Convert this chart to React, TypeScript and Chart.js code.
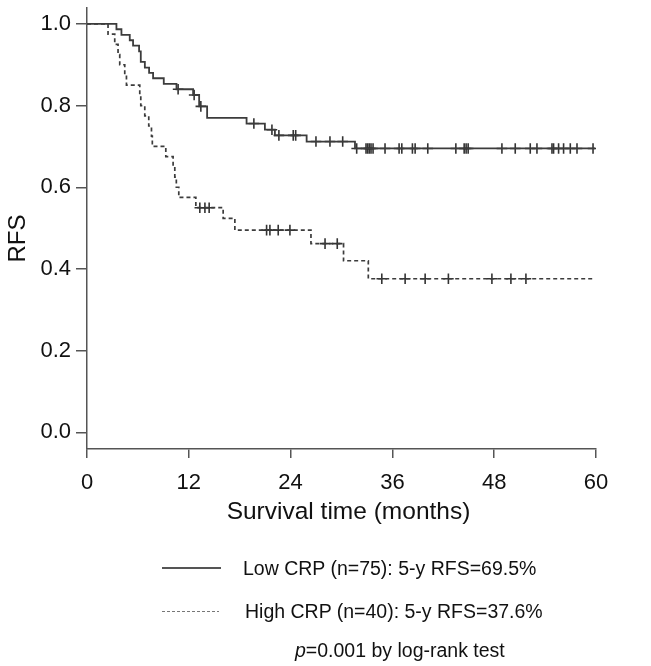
import { useEffect, useRef } from "react";
import Chart, { ChartConfiguration } from "chart.js/auto";

// Kaplan-Meier curves (time in months, RFS)
const lowTimes = [0, 3.47, 4.06, 5.04, 5.43, 6.14, 6.34, 6.82, 7.32, 7.79, 9.05, 10.55, 12.51, 13.22, 14.16, 18.81, 20.97, 22.15, 25.89, 31.59, 59.9];
const lowSurv = [1.0, 0.987, 0.973, 0.96, 0.947, 0.933, 0.907, 0.893, 0.88, 0.867, 0.853, 0.84, 0.826, 0.798, 0.77, 0.756, 0.741, 0.727, 0.712, 0.695, 0.695];
const lowCensored = [10.74, 12.63, 13.42, 19.67, 21.8, 22.62, 24.31, 24.6, 26.99, 28.64, 30.14, 31.79, 32.89, 33.09, 33.28, 33.48, 33.72, 35.13, 36.79, 37.11, 38.36, 38.68, 40.17, 43.48, 44.46, 44.69, 44.93, 48.91, 50.48, 52.25, 53.04, 54.81, 55.0, 55.59, 56.18, 56.97, 57.76, 59.65];

const highTimes = [0, 2.48, 3.27, 3.66, 3.86, 4.45, 4.65, 6.22, 6.34, 6.81, 7.28, 7.6, 7.7, 9.29, 10.15, 10.35, 10.53, 10.82, 12.83, 16.05, 17.43, 26.4, 30.24, 33.16, 59.9];
const highSurv = [1.0, 0.975, 0.95, 0.925, 0.9, 0.875, 0.85, 0.825, 0.8, 0.775, 0.75, 0.725, 0.7, 0.675, 0.65, 0.625, 0.6, 0.575, 0.55, 0.524, 0.495, 0.462, 0.42, 0.376, 0.376];
const highCensored = [13.3, 13.9, 14.4, 21.17, 21.56, 22.54, 23.92, 28.06, 29.5, 34.75, 37.5, 39.86, 42.6, 47.73, 49.97, 51.74];

const xTicks = [0, 12, 24, 36, 48, 60];
const yTicks = [0, 0.2, 0.4, 0.6, 0.8, 1.0];

const xTitle = "Survival time (months)";
const yTitle = "RFS";
const lowLabel = "Low CRP (n=75): 5-y RFS=69.5%";
const highLabel = "High CRP (n=40): 5-y RFS=37.6%";

const FONT = '"Liberation Sans", Arial, sans-serif';
const INK = "#111";
const AXIS = "#555";
const CURVE = "#3c3c3c";

// level of a step curve at time t
const levelAt = (times: number[], surv: number[], t: number) => {
  let s = surv[0];
  for (let i = 0; i < times.length; i++) {
    if (times[i] <= t) s = surv[i];
  }
  return s;
};

const toPoints = (times: number[], surv: number[]) =>
  times.map((t, i) => ({ x: t, y: surv[i] }));

const toCensorPoints = (censored: number[], times: number[], surv: number[]) =>
  censored.map((t) => ({ x: t, y: levelAt(times, surv, t) }));

const App = () => {
  const chartRef = useRef<HTMLCanvasElement | null>(null);

  useEffect(() => {
    let myChart: Chart | null = null;

    if (chartRef.current) {
      const config: ChartConfiguration = {
        type: "line",
        data: {
          datasets: [
            {
              label: lowLabel,
              data: toPoints(lowTimes, lowSurv),
              stepped: "before",
              borderColor: CURVE,
              borderWidth: 1.8,
              pointRadius: 0,
              fill: false,
            },
            {
              label: highLabel,
              data: toPoints(highTimes, highSurv),
              stepped: "before",
              borderColor: CURVE,
              borderWidth: 1.7,
              borderDash: [4, 3],
              pointRadius: 0,
              fill: false,
            },
            {
              label: "low censored",
              data: toCensorPoints(lowCensored, lowTimes, lowSurv),
              showLine: false,
              pointStyle: "cross",
              pointRadius: 5.3,
              pointBorderWidth: 1.6,
              pointBorderColor: "#333",
            },
            {
              label: "high censored",
              data: toCensorPoints(highCensored, highTimes, highSurv),
              showLine: false,
              pointStyle: "cross",
              pointRadius: 5.3,
              pointBorderWidth: 1.6,
              pointBorderColor: "#333",
            },
          ],
        },
        options: {
          responsive: false,
          animation: false,
          events: [],
          layout: { padding: { left: 0, top: 8, right: 55, bottom: 0 } },
          plugins: {
            legend: { display: false },
            tooltip: { enabled: false },
          },
          scales: {
            x: {
              type: "linear",
              min: 0,
              max: 60,
              afterBuildTicks: (scale) => {
                scale.ticks = xTicks.map((v) => ({ value: v }));
              },
              afterFit: (scale) => {
                scale.height = 217;
                scale.paddingLeft = 0;
                scale.paddingRight = 0;
              },
              border: { color: AXIS, width: 1.5 },
              grid: {
                drawOnChartArea: false,
                drawTicks: true,
                tickLength: 9,
                color: AXIS,
                lineWidth: 1.5,
              },
              ticks: {
                color: INK,
                padding: 12,
                font: { family: FONT, size: 22 },
                callback: (v) => String(v),
              },
            },
            y: {
              type: "linear",
              min: -0.041,
              max: 1.039,
              afterBuildTicks: (scale) => {
                scale.ticks = yTicks.map((v) => ({ value: v }));
              },
              afterFit: (scale) => {
                scale.width = 87;
                scale.paddingTop = 0;
                scale.paddingBottom = 0;
              },
              border: { color: AXIS, width: 1.5 },
              grid: {
                drawOnChartArea: false,
                drawTicks: true,
                tickLength: 11,
                color: AXIS,
                lineWidth: 1.5,
              },
              ticks: {
                color: INK,
                padding: 5,
                font: { family: FONT, size: 22 },
                callback: (v) => Number(v).toFixed(1),
              },
            },
          },
        },
        plugins: [
          {
            id: "axis_titles",
            afterDraw: (chart) => {
              const { ctx, chartArea } = chart;
              ctx.save();
              ctx.fillStyle = INK;
              ctx.font = `24.5px ${FONT}`;
              ctx.textAlign = "center";
              ctx.textBaseline = "alphabetic";
              ctx.fillText(xTitle, (chartArea.left + chartArea.right) / 2 + 7, chartArea.bottom + 70);
              ctx.font = `24px ${FONT}`;
              ctx.translate(25, (chartArea.top + chartArea.bottom) / 2 + 10);
              ctx.rotate(-Math.PI / 2);
              ctx.fillText(yTitle, 0, 0);
              ctx.restore();
            },
          },
        ],
      };
      myChart = new Chart(chartRef.current, config);
    }
    return () => {
      if (myChart) {
        myChart.destroy();
      }
    };
  }, []);

  const textStyle = {
    position: "absolute" as const,
    fontFamily: FONT,
    fontSize: 19.5,
    lineHeight: "22px",
    color: INK,
    whiteSpace: "nowrap" as const,
  };

  return (
    <div style={{ position: "fixed", left: 0, top: 0, width: 651, height: 666, background: "#fff" }}>
      <canvas ref={chartRef} width={651} height={666} style={{ position: "absolute", left: 0, top: 0, width: 651, height: 666 }} />
      <div style={{ position: "absolute", left: 162, top: 567, width: 59, height: 1.5, background: AXIS }} />
      <div style={{ ...textStyle, left: 243, top: 557 }}>{lowLabel}</div>
      <div
        style={{
          position: "absolute",
          left: 162,
          top: 611,
          width: 57,
          height: 1.3,
          background: `repeating-linear-gradient(to right, #777 0 3px, transparent 3px 5px)`,
        }}
      />
      <div style={{ ...textStyle, left: 245, top: 600 }}>{highLabel}</div>
      <div style={{ ...textStyle, left: 295, top: 639 }}>
        <i>p</i>=0.001 by log-rank test
      </div>
    </div>
  );
};

export default App;
